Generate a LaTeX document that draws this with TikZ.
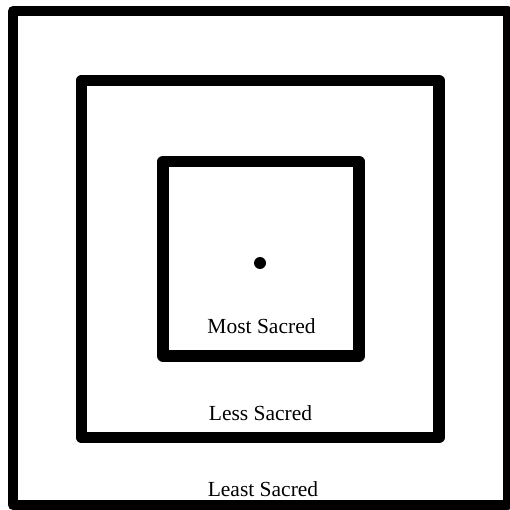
\documentclass[tikz,border=0pt]{standalone}
\usepackage{fontspec}
\setmainfont{Liberation Serif}
\begin{document}
\begin{tikzpicture}[x=1pt,y=-1pt,
  frame/.style={draw=black,line join=round,line cap=round},
  label/.style={anchor=base,inner sep=0pt,font=\fontsize{21.5}{25}\selectfont}]
\useasboundingbox (0,0) rectangle (510,510);
\fill[white] (0,0) rectangle (510,510);
\clip (0,0) rectangle (510,510);
% outer square
\draw[frame,line width=10pt] (13,11) rectangle (508,505);
% middle square
\draw[frame,line width=11.5pt] (81.5,80.5) rectangle (439,437.5);
% inner square
\draw[frame,line width=11.5pt] (163,161.5) rectangle (359,356);
% centre dot
\fill (260,263) circle (6);
\node[label] (most) at (261.5,333) {Most Sacred};
\node[label] (less) at (260.5,420) {Less Sacred};
\node[label] (least) at (263,496) {Least Sacred};
\end{tikzpicture}
\end{document}
